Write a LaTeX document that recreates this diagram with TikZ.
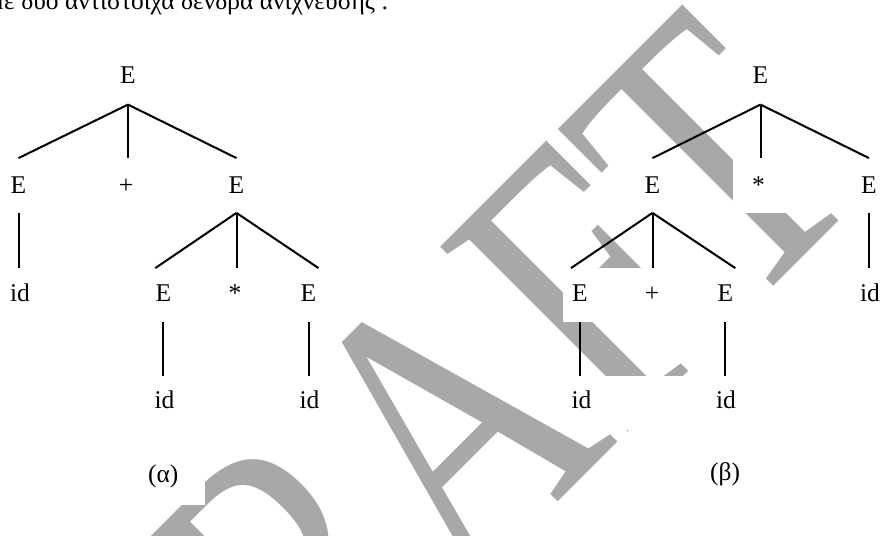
\documentclass[tikz,border=0pt]{standalone}
\usepackage{fontspec}
\setmainfont{Liberation Serif}
\begin{document}
\begin{tikzpicture}[x=1pt,y=-1pt,
  lbl/.style={inner sep=0pt, anchor=base, text height=17.5pt, text depth=0pt,
              font=\fontsize{25.5}{25.5}\selectfont},
  captxt/.style={inner sep=0pt, anchor=base, font=\fontsize{25.5}{25.5}\selectfont},
  edge/.style={line width=2pt, line cap=butt},
  wm/.style={inner sep=0pt, rotate=45, xscale=0.76, text=black!34,
             font=\fontsize{402}{402}\selectfont},
  knock/.style={fill=white, draw=none}]
\useasboundingbox (0,0) rectangle (882,535);
\clip (0,0) rectangle (882,535);
\fill[white] (0,0) rectangle (882,535);

% heading line, cut by the top edge of the page
\node[inner sep=0pt, anchor=base west, font=\fontsize{25.5}{25.5}\selectfont] (hdr)
  at (-9.7,10) {με δύο αντίστοιχα δένδρα ανίχνευσης :};

% DRAFT watermark, one letter per node along a 45 degree baseline
\coordinate (wmjoin) at (620,440);
\node[wm, anchor=base east] (wmA) at (wmjoin) {A};
\node[wm, anchor=base west] (wmF) at (wmA.base east) {F};
\node[wm, anchor=base west] (wmT) at (wmF.base east) {T};
\node[wm, anchor=base east] (wmR) at (wmA.base west) {R};
\node[wm, anchor=base east] (wmD) at (wmR.base west) {D};

% white text frames that hide the watermark
\fill[knock] (733,158) rectangle (890,213);
\fill[knock] (563,268) rectangle (745,322);
\fill[knock] (560,376) rectangle (750,430);
\fill[knock] (140,452) rectangle (205,505);

% tree (a)
\node[lbl] (a0) at (128,83.4) {E};
\node[lbl] (a1) at (18.5,193.4) {E};
\node[lbl] (a2) at (126,193.4) {+};
\node[lbl] (a3) at (236.5,193.4) {E};
\node[lbl] (a4) at (20,301.1) {id};
\node[lbl] (a5) at (163.3,301.1) {E};
\node[lbl] (a6) at (235,301.1) {*};
\node[lbl] (a7) at (308.5,301.1) {E};
\node[lbl] (a8) at (164.5,408.7) {id};
\node[lbl] (a9) at (309.5,408.7) {id};
\node[captxt] (acap) at (163.3,482.5) {(α)};

% tree (b)
\node[lbl] (b0) at (760.5,83.4) {E};
\node[lbl] (b1) at (652.5,193.4) {E};
\node[lbl] (b2) at (758.5,193.4) {*};
\node[lbl] (b3) at (869,193.4) {E};
\node[lbl] (b4) at (580,301.1) {E};
\node[lbl] (b5) at (652,301.1) {+};
\node[lbl] (b6) at (725.3,301.1) {E};
\node[lbl] (b7) at (870,301.1) {id};
\node[lbl] (b8) at (581.5,408.7) {id};
\node[lbl] (b9) at (726,408.7) {id};
\node[captxt] (bcap) at (725,480.5) {(β)};

% where the branches leave and reach each label
\foreach \n in {a0,b0} {\coordinate (\n-dn) at ([yshift=-21pt]\n.south);}
\foreach \n in {a1,a2,a3,b1,b2,b3} {\coordinate (\n-up) at ([yshift=17.6pt]\n.north);
                                    \coordinate (\n-dn) at ([yshift=-19.3pt]\n.south);}
\foreach \n in {a4,a5,a6,a7,b4,b5,b6,b7} {\coordinate (\n-up) at ([yshift=15.3pt]\n.north);
                                          \coordinate (\n-dn) at ([yshift=-20.6pt]\n.south);}
\foreach \n in {a8,a9,b8,b9} {\coordinate (\n-up) at ([yshift=15.2pt]\n.north);}
\coordinate (a5-up) at ([xshift=-8pt]a5-up);
\coordinate (a7-up) at ([xshift=10pt]a7-up);
\coordinate (b4-up) at ([xshift=-9pt]b4-up);
\coordinate (b6-up) at ([xshift=10pt]b6-up);

\draw[edge] (a0-dn) -- (a1-up);
\draw[edge] (a0-dn) -- (a0-dn |- a2-up);
\draw[edge] (a0-dn) -- (a3-up);
\draw[edge] (a1-dn) -- (a1-dn |- a4-up);
\draw[edge] (a3-dn) -- (a5-up);
\draw[edge] (a3-dn) -- (a3-dn |- a6-up);
\draw[edge] (a3-dn) -- (a7-up);
\draw[edge] (a5-dn) -- (a5-dn |- a8-up);
\draw[edge] (a7-dn) -- (a7-dn |- a9-up);

\draw[edge] (b0-dn) -- (b1-up);
\draw[edge] (b0-dn) -- (b0-dn |- b2-up);
\draw[edge] (b0-dn) -- (b3-up);
\draw[edge] (b3-dn) -- (b3-dn |- b7-up);
\draw[edge] (b1-dn) -- (b4-up);
\draw[edge] (b1-dn) -- (b1-dn |- b5-up);
\draw[edge] (b1-dn) -- (b6-up);
\draw[edge] (b4-dn) -- (b4-dn |- b8-up);
\draw[edge] (b6-dn) -- (b6-dn |- b9-up);
\end{tikzpicture}
\end{document}
